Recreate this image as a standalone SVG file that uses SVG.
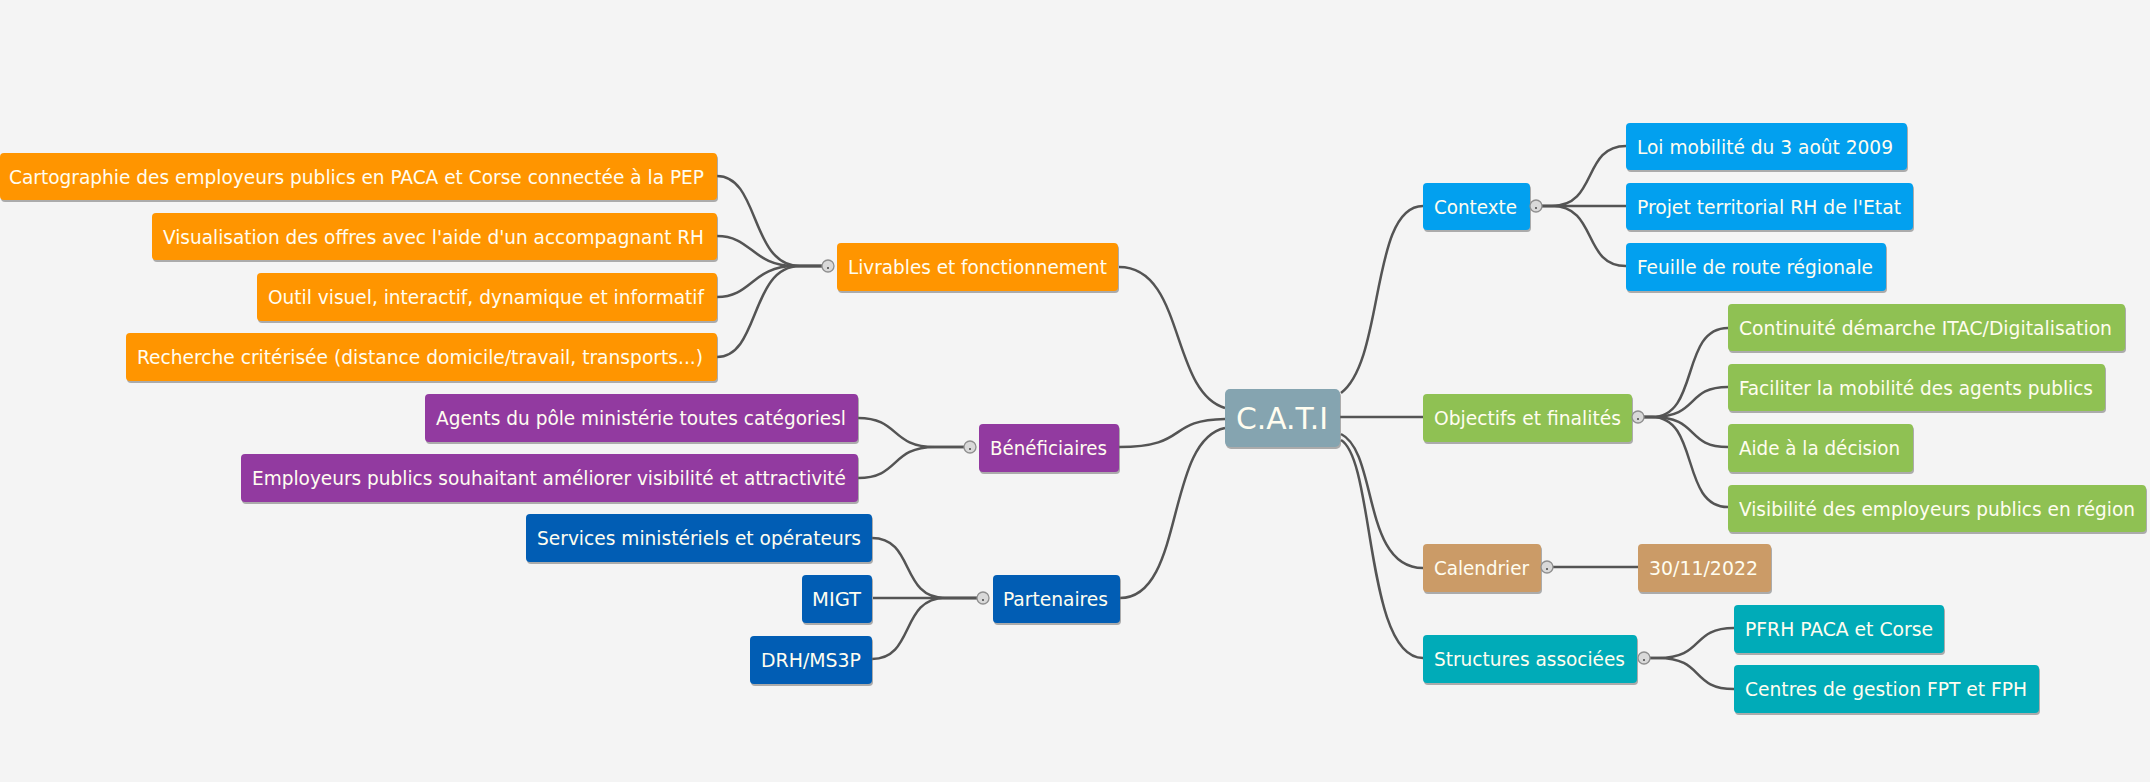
<svg xmlns="http://www.w3.org/2000/svg" width="2150" height="782" viewBox="0 0 2150 782">
<style>
.bg{fill:#f4f4f4}
.sh{fill:#6f6f6f;opacity:.55}
.t{font-family:"DejaVu Sans Condensed","DejaVu Sans",sans-serif;font-size:20px;fill:#fffdf0}
.big{font-size:30px}
.or{fill:#ff9500}.pu{fill:#923aa0}.db{fill:#015db4}.lb{fill:#02a0ef}.gr{fill:#8fc153}.tn{fill:#cb9b67}.te{fill:#00abb8}.ce{fill:#85a4b0}
.c{fill:none;stroke:#545454;stroke-width:2.5}
.tg{fill:#d9d9d9;stroke:#8f8f8f;stroke-width:1.3}
.tm{stroke:#444;stroke-width:1.6}
</style>
<rect class="bg" x="0" y="0" width="2150" height="782"/>
<g id="connectors">
<!-- Livrables children -->
<path class="c" d="M717,176 C760,176 750,266 800,266 H822"/>
<path class="c" d="M717,236 C752,236 752,266 795,266 H822"/>
<path class="c" d="M717,297 C752,297 752,266 795,266 H822"/>
<path class="c" d="M717,357 C760,357 750,266 800,266 H822"/>
<!-- Beneficiaires children -->
<path class="c" d="M858,418 C900,418 890,447 935,447 H964"/>
<path class="c" d="M858,478 C900,478 890,447 935,447 H964"/>
<!-- Partenaires children -->
<path class="c" d="M872,538 C915,538 900,598 945,598 H977"/>
<path class="c" d="M873,598 H977"/>
<path class="c" d="M872,659 C915,659 900,598 945,598 H977"/>
<!-- central -->
<path class="c" d="M1119,267 C1185,267 1170,392 1225,408"/>
<path class="c" d="M1119,447 C1190,447 1165,420 1225,419"/>
<path class="c" d="M1120,598 C1185,598 1165,440 1225,428"/>
<path class="c" d="M1341,393 C1385,360 1370,206 1423,206"/>
<path class="c" d="M1340,417 H1423"/>
<path class="c" d="M1341,434 C1378,452 1362,568 1423,568"/>
<path class="c" d="M1341,440 C1375,460 1365,658 1423,658"/>
<!-- Contexte children -->
<path class="c" d="M1542,206 H1552 C1598,206 1582,146 1626,146"/>
<path class="c" d="M1542,206 H1626"/>
<path class="c" d="M1542,206 H1552 C1598,206 1582,266 1626,266"/>
<!-- Objectifs children -->
<path class="c" d="M1644,417 H1652 C1700,417 1680,328 1728,328"/>
<path class="c" d="M1644,417 H1652 C1700,417 1685,387 1728,387"/>
<path class="c" d="M1644,417 H1652 C1700,417 1685,447 1728,447"/>
<path class="c" d="M1644,417 H1652 C1700,417 1680,507 1728,507"/>
<!-- Calendrier child -->
<path class="c" d="M1553,567 H1638"/>
<!-- Structures children -->
<path class="c" d="M1650,658 H1658 C1705,658 1690,628 1734,628"/>
<path class="c" d="M1650,658 H1658 C1705,658 1690,689 1734,689"/>
</g>

<g id="n-cati"><rect class="sh" x="1226" y="391" width="115" height="58" rx="5"/><rect class="ce" x="1225" y="389" width="115" height="58" rx="5"/><text class="t big" x="1236" y="429" textLength="92" lengthAdjust="spacingAndGlyphs">C.A.T.I</text></g>

<g id="n-livrables"><rect class="sh" x="838" y="245" width="281" height="48" rx="4"/><rect class="or" x="837" y="243" width="281" height="48" rx="4"/><text class="t" x="848" y="274" textLength="259" lengthAdjust="spacingAndGlyphs">Livrables et fonctionnement</text><circle class="tg" cx="828" cy="266" r="6"/><line class="tm" x1="827" y1="268" x2="829" y2="268"/></g>
<g id="n-carto"><rect class="sh" x="1" y="155" width="717" height="47" rx="4"/><rect class="or" x="0" y="153" width="717" height="47" rx="4"/><text class="t" x="9" y="183.5" textLength="695" lengthAdjust="spacingAndGlyphs">Cartographie des employeurs publics en PACA et Corse connectée à la PEP</text></g>
<g id="n-visu"><rect class="sh" x="153" y="215" width="565" height="47" rx="4"/><rect class="or" x="152" y="213" width="565" height="47" rx="4"/><text class="t" x="163" y="243.5" textLength="541" lengthAdjust="spacingAndGlyphs">Visualisation des offres avec l'aide d'un accompagnant RH</text></g>
<g id="n-outil"><rect class="sh" x="258" y="275" width="460" height="48" rx="4"/><rect class="or" x="257" y="273" width="460" height="48" rx="4"/><text class="t" x="268" y="304" textLength="436" lengthAdjust="spacingAndGlyphs">Outil visuel, interactif, dynamique et informatif</text></g>
<g id="n-recherche"><rect class="sh" x="127" y="335" width="591" height="48" rx="4"/><rect class="or" x="126" y="333" width="591" height="48" rx="4"/><text class="t" x="137" y="364" textLength="566" lengthAdjust="spacingAndGlyphs">Recherche critérisée (distance domicile/travail, transports...)</text></g>

<g id="n-benef"><rect class="sh" x="980" y="426" width="140" height="48" rx="4"/><rect class="pu" x="979" y="424" width="140" height="48" rx="4"/><text class="t" x="990" y="455" textLength="117" lengthAdjust="spacingAndGlyphs">Bénéficiaires</text><circle class="tg" cx="970" cy="447" r="6"/><line class="tm" x1="969" y1="449" x2="971" y2="449"/></g>
<g id="n-agents"><rect class="sh" x="426" y="396" width="433" height="48" rx="4"/><rect class="pu" x="425" y="394" width="433" height="48" rx="4"/><text class="t" x="436" y="425" textLength="410" lengthAdjust="spacingAndGlyphs">Agents du pôle ministérie toutes catégoriesl</text></g>
<g id="n-employeurs"><rect class="sh" x="242" y="456" width="617" height="48" rx="4"/><rect class="pu" x="241" y="454" width="617" height="48" rx="4"/><text class="t" x="252" y="485" textLength="594" lengthAdjust="spacingAndGlyphs">Employeurs publics souhaitant améliorer visibilité et attractivité</text></g>

<g id="n-partenaires"><rect class="sh" x="994" y="577" width="127" height="48" rx="4"/><rect class="db" x="993" y="575" width="127" height="48" rx="4"/><text class="t" x="1003" y="606" textLength="105" lengthAdjust="spacingAndGlyphs">Partenaires</text><circle class="tg" cx="983" cy="598" r="6"/><line class="tm" x1="982" y1="600" x2="984" y2="600"/></g>
<g id="n-services"><rect class="sh" x="527" y="516" width="346" height="48" rx="4"/><rect class="db" x="526" y="514" width="346" height="48" rx="4"/><text class="t" x="537" y="545" textLength="324" lengthAdjust="spacingAndGlyphs">Services ministériels et opérateurs</text></g>
<g id="n-migt"><rect class="sh" x="803" y="577" width="70" height="48" rx="4"/><rect class="db" x="802" y="575" width="70" height="48" rx="4"/><text class="t" x="812" y="606" textLength="49" lengthAdjust="spacingAndGlyphs">MIGT</text></g>
<g id="n-drh"><rect class="sh" x="751" y="638" width="122" height="48" rx="4"/><rect class="db" x="750" y="636" width="122" height="48" rx="4"/><text class="t" x="761" y="667" textLength="100" lengthAdjust="spacingAndGlyphs">DRH/MS3P</text></g>

<g id="n-contexte"><rect class="sh" x="1424" y="185" width="107" height="47" rx="4"/><rect class="lb" x="1423" y="183" width="107" height="47" rx="4"/><text class="t" x="1434" y="213.5" textLength="83" lengthAdjust="spacingAndGlyphs">Contexte</text><circle class="tg" cx="1536" cy="206" r="6"/><line class="tm" x1="1535" y1="208" x2="1537" y2="208"/></g>
<g id="n-loi"><rect class="sh" x="1627" y="125" width="281" height="47" rx="4"/><rect class="lb" x="1626" y="123" width="281" height="47" rx="4"/><text class="t" x="1637" y="153.5" textLength="256" lengthAdjust="spacingAndGlyphs">Loi mobilité du 3 août 2009</text></g>
<g id="n-projet"><rect class="sh" x="1627" y="185" width="287" height="47" rx="4"/><rect class="lb" x="1626" y="183" width="287" height="47" rx="4"/><text class="t" x="1637" y="213.5" textLength="264" lengthAdjust="spacingAndGlyphs">Projet territorial RH de l'Etat</text></g>
<g id="n-feuille"><rect class="sh" x="1627" y="245" width="260" height="48" rx="4"/><rect class="lb" x="1626" y="243" width="260" height="48" rx="4"/><text class="t" x="1637" y="274" textLength="236" lengthAdjust="spacingAndGlyphs">Feuille de route régionale</text></g>

<g id="n-objectifs"><rect class="sh" x="1424" y="396" width="209" height="48" rx="4"/><rect class="gr" x="1423" y="394" width="209" height="48" rx="4"/><text class="t" x="1434" y="425" textLength="187" lengthAdjust="spacingAndGlyphs">Objectifs et finalités</text><circle class="tg" cx="1638" cy="417" r="6"/><line class="tm" x1="1637" y1="419" x2="1639" y2="419"/></g>
<g id="n-continuite"><rect class="sh" x="1729" y="306" width="397" height="47" rx="4"/><rect class="gr" x="1728" y="304" width="397" height="47" rx="4"/><text class="t" x="1739" y="334.5" textLength="373" lengthAdjust="spacingAndGlyphs">Continuité démarche ITAC/Digitalisation</text></g>
<g id="n-faciliter"><rect class="sh" x="1729" y="366" width="377" height="47" rx="4"/><rect class="gr" x="1728" y="364" width="377" height="47" rx="4"/><text class="t" x="1739" y="394.5" textLength="354" lengthAdjust="spacingAndGlyphs">Faciliter la mobilité des agents publics</text></g>
<g id="n-aide"><rect class="sh" x="1729" y="426" width="185" height="48" rx="4"/><rect class="gr" x="1728" y="424" width="185" height="48" rx="4"/><text class="t" x="1739" y="455" textLength="161" lengthAdjust="spacingAndGlyphs">Aide à la décision</text></g>
<g id="n-visibilite"><rect class="sh" x="1729" y="487" width="418" height="47" rx="4"/><rect class="gr" x="1728" y="485" width="418" height="47" rx="4"/><text class="t" x="1739" y="515.5" textLength="396" lengthAdjust="spacingAndGlyphs">Visibilité des employeurs publics en région</text></g>

<g id="n-calendrier"><rect class="sh" x="1424" y="546" width="118" height="48" rx="4"/><rect class="tn" x="1423" y="544" width="118" height="48" rx="4"/><text class="t" x="1434" y="575" textLength="95" lengthAdjust="spacingAndGlyphs">Calendrier</text><circle class="tg" cx="1547" cy="567" r="6"/><line class="tm" x1="1546" y1="569" x2="1548" y2="569"/></g>
<g id="n-date"><rect class="sh" x="1639" y="546" width="133" height="48" rx="4"/><rect class="tn" x="1638" y="544" width="133" height="48" rx="4"/><text class="t" x="1649" y="575" textLength="109" lengthAdjust="spacingAndGlyphs">30/11/2022</text></g>

<g id="n-structures"><rect class="sh" x="1424" y="637" width="214" height="48" rx="4"/><rect class="te" x="1423" y="635" width="214" height="48" rx="4"/><text class="t" x="1434" y="666" textLength="191" lengthAdjust="spacingAndGlyphs">Structures associées</text><circle class="tg" cx="1644" cy="658" r="6"/><line class="tm" x1="1643" y1="660" x2="1645" y2="660"/></g>
<g id="n-pfrh"><rect class="sh" x="1735" y="607" width="210" height="48" rx="4"/><rect class="te" x="1734" y="605" width="210" height="48" rx="4"/><text class="t" x="1745" y="636" textLength="188" lengthAdjust="spacingAndGlyphs">PFRH PACA et Corse</text></g>
<g id="n-centres"><rect class="sh" x="1735" y="667" width="305" height="48" rx="4"/><rect class="te" x="1734" y="665" width="305" height="48" rx="4"/><text class="t" x="1745" y="696" textLength="282" lengthAdjust="spacingAndGlyphs">Centres de gestion FPT et FPH</text></g>
</svg>
